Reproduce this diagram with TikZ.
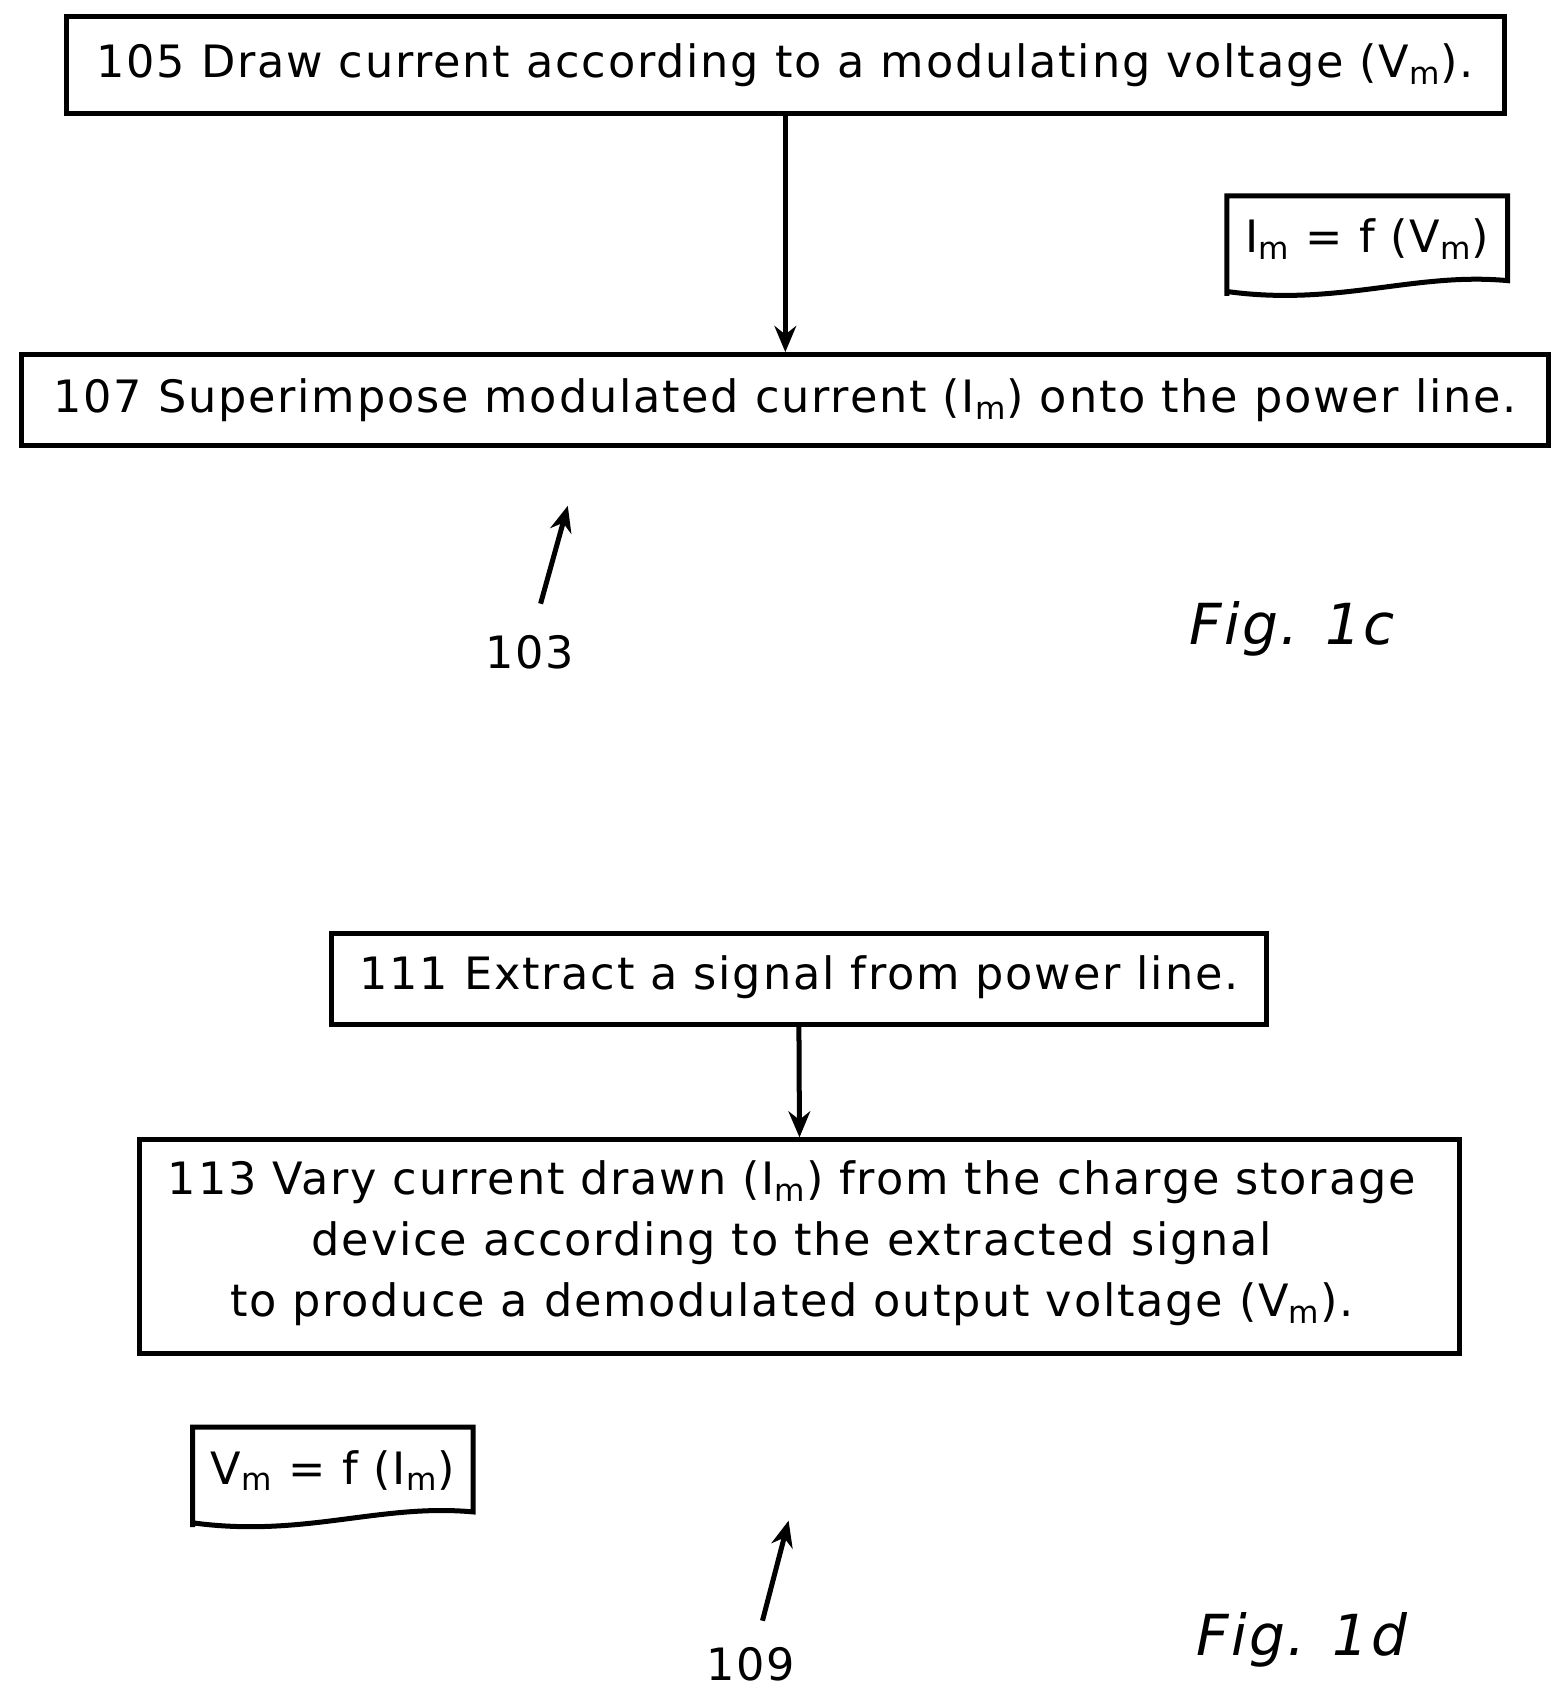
\documentclass[tikz,border=0pt]{standalone}
\usepackage{fontspec}
\setmainfont[LetterSpace=4]{DejaVu Sans}
\usetikzlibrary{arrows.meta}
\begin{document}
\begin{tikzpicture}[x=0.5pt,y=-0.5pt,
  box/.style={draw,line width=2.3pt,inner sep=0pt},
  txt/.style={font=\fontsize{20.5}{28}\selectfont,align=center,inner sep=0pt},
  arr/.style={line width=2.3pt,-{Stealth[length=12pt,width=10pt]}},
  fig/.style={font=\fontsize{26}{30}\selectfont\itshape,inner sep=0pt}]
\useasboundingbox (0,0) rectangle (1440,1562);
\node[box,minimum width=661pt,minimum height=44.5pt] (b105) at (722,59.5) {};
\node[txt] (t105) at (722,60) {105 Draw current according to a modulating voltage (V\textsubscript{m}).};
\node[box,minimum width=702pt,minimum height=42pt] (b107) at (722,368) {};
\node[txt] (t107) at (722,368) {107 Superimpose modulated current (I\textsubscript{m}) onto the power line.};
\draw[arr] (b105.south) -- (b107.north);
% note 1
\draw[line width=2.3pt] (1128,272) -- (1128,180) -- (1386,180) -- (1386,258)
  .. controls (1300,250) and (1230,282) .. (1128,268) -- cycle;
\node[txt] (n1) at (1257,220) {I\textsubscript{m} = f (V\textsubscript{m})};
\coordinate (a103s) at (497,555); \coordinate (a103e) at (522,465);
\draw[arr] (a103s) -- (a103e);
\node[txt] (l103) at (487,600) {103};
\node[fig] (f1c) at (1188,578) {Fig. 1c};
% fig 1d
\node[box,minimum width=429.5pt,minimum height=42pt] (b111) at (734.5,900) {};
\node[txt] (t111) at (734.5,898) {111 Extract a signal from power line.};
\node[box,minimum width=607pt,minimum height=98pt] (b113) at (735,1146) {};
\node[txt] (t113) at (728,1143) {113 Vary current drawn (I\textsubscript{m}) from the charge storage\\device according to the extracted signal\\to produce a demodulated output voltage (V\textsubscript{m}).};
\draw[arr] (b111.south) -- (b113.north);
\draw[line width=2.3pt] (177,1404) -- (177,1312) -- (435,1312) -- (435,1390)
  .. controls (349,1382) and (279,1414) .. (177,1400) -- cycle;
\node[txt] (n2) at (306,1352) {V\textsubscript{m} = f (I\textsubscript{m})};
\coordinate (a109s) at (701,1490); \coordinate (a109e) at (725,1398);
\draw[arr] (a109s) -- (a109e);
\node[txt] (l109) at (690,1530) {109};
\node[fig] (f1d) at (1197,1508) {Fig. 1d};
\end{tikzpicture}
\end{document}
